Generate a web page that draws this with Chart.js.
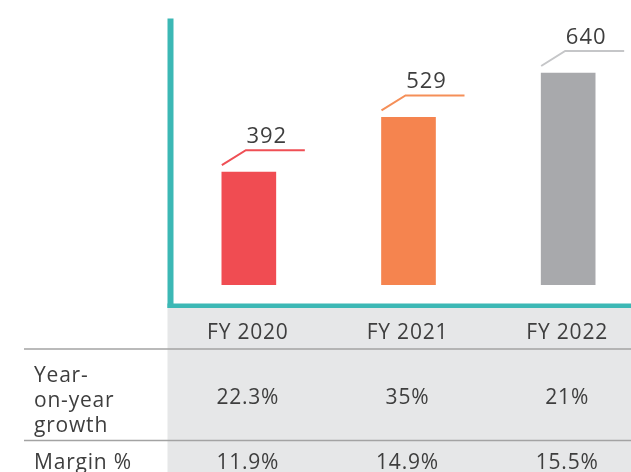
<!DOCTYPE html>
<html>
<head>
<meta charset="utf-8">
<script src="https://cdn.jsdelivr.net/npm/chart.js@4"></script>
<style>
  html, body { margin: 0; padding: 0; background: #fff; overflow: hidden; }
  #wrap { position: relative; width: 648px; height: 472px; }
</style>
</head>
<body>
<div id="wrap"><canvas id="revenue"></canvas></div>
<script>
const years = ['FY 2020', 'FY 2021', 'FY 2022'];
const revenue = [392, 529, 640];
const growth = ['22.3%', '35%', '21%'];
const margin = ['11.9%', '14.9%', '15.5%'];
const rowLabels = [['Year-', 'on-year', 'growth'], ['Margin %']];

const barColors = ['#f04c52', '#f5844f', '#a8a9ac'];
const leaderColors = ['#ef4f55', '#f58f58', '#c5c6c8'];
const teal = '#3cb8b5';
const textColor = '#3e3e3e';
const font = '"Open Sans", sans-serif';

// teal L axis, grey table band, labels and rows
const tablePlugin = {
  id: 'tablePlugin',
  beforeDraw(chart) {
    const ctx = chart.ctx;
    ctx.save();
    ctx.fillStyle = '#e6e7e8';
    ctx.fillRect(167.5, 308, chart.width - 167.5, chart.height - 308);
    ctx.fillStyle = teal;
    ctx.fillRect(167.5, 18.5, 6, 289.5);
    ctx.fillRect(167.5, 303.5, chart.width - 167.5, 4.5);
    ctx.restore();
  },
  afterDraw(chart) {
    const ctx = chart.ctx;
    const x = chart.scales.x;
    const meta = chart.getDatasetMeta(0);
    ctx.save();
    ctx.letterSpacing = '1px';

    // value labels with leader lines
    meta.data.forEach((bar, i) => {
      const left = bar.x - bar.width / 2;
      ctx.strokeStyle = leaderColors[i];
      ctx.lineWidth = 2;
      ctx.beginPath();
      ctx.moveTo(left, bar.y - 7);
      ctx.lineTo(left + 24, bar.y - 22);
      ctx.lineTo(left + 83, bar.y - 22);
      ctx.stroke();
      ctx.fillStyle = textColor;
      ctx.font = '22px ' + font;
      ctx.textAlign = 'center';
      ctx.textBaseline = 'alphabetic';
      ctx.fillText(String(revenue[i]), left + 45, bar.y - 29);
    });

    // separators
    ctx.strokeStyle = '#a3a3a3';
    ctx.lineWidth = 1.5;
    [349, 440.5].forEach(y => {
      ctx.beginPath();
      ctx.moveTo(24, y);
      ctx.lineTo(chart.width, y);
      ctx.stroke();
    });

    ctx.fillStyle = textColor;
    ctx.font = '21px ' + font;
    ctx.letterSpacing = '0.8px';
    ctx.textBaseline = 'alphabetic';
    ctx.textAlign = 'center';
    years.forEach((y, i) => {
      const cx = x.getPixelForValue(i) - 1;
      ctx.fillText(y, cx, 338.5);
      ctx.fillText(growth[i], cx, 403.5);
      ctx.fillText(margin[i], cx, 469);
    });

    ctx.textAlign = 'left';
    rowLabels[0].forEach((t, j) => ctx.fillText(t, 34, 382 + j * 25));
    ctx.fillText(rowLabels[1][0], 34, 469);
    ctx.restore();
  }
};

new Chart(document.getElementById('revenue'), {
  type: 'bar',
  data: {
    labels: years,
    datasets: [{
      data: revenue,
      backgroundColor: barColors,
      barThickness: 54
    }]
  },
  options: {
    responsive: true,
    maintainAspectRatio: false,
    animation: false,
    layout: { padding: { left: 169, top: 19, right: 0, bottom: 187 } },
    plugins: {
      legend: { display: false },
      tooltip: { enabled: false }
    },
    scales: {
      x: { display: false },
      y: { display: false, min: 110, max: 775 }
    }
  },
  plugins: [tablePlugin]
});
</script>
</body>
</html>
